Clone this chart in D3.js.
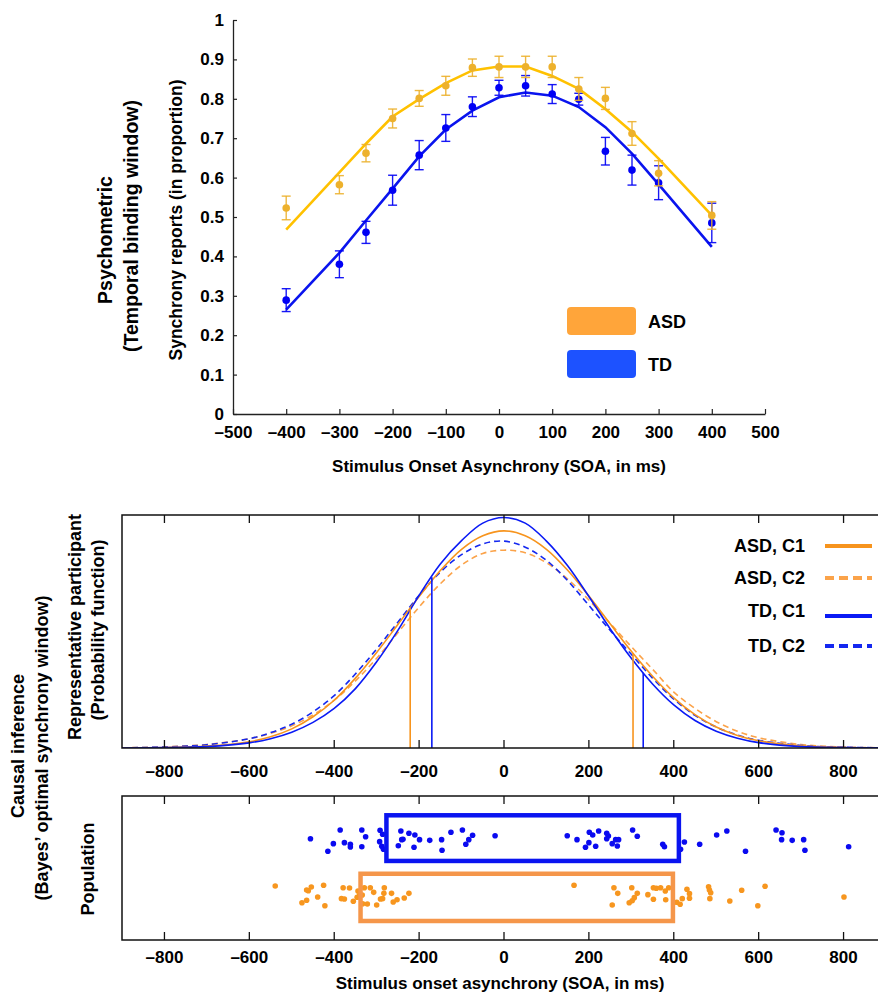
<!DOCTYPE html>
<html>
<head>
<meta charset="utf-8">
<script src="https://cdn.jsdelivr.net/npm/d3@7"></script>
<style>
  body { margin: 0; background: #fff; }
  text { font-family: "Liberation Sans", Arial, Helvetica, sans-serif; font-weight: bold; fill: #000; }
</style>
</head>
<body>
<svg id="chart" width="878" height="994"></svg>
<script>
// ---------- Psychometric data (synchrony judgements) ----------
const soaLevels = [-400, -300, -250, -200, -150, -100, -50, 0, 50, 100, 150, 200, 250, 300, 400];
const asdMean = [0.523, 0.582, 0.662, 0.750, 0.801, 0.833, 0.879, 0.881, 0.881, 0.881, 0.825, 0.801, 0.712, 0.611, 0.504];
const asdErr  = [0.030, 0.023, 0.022, 0.024, 0.020, 0.024, 0.022, 0.027, 0.027, 0.027, 0.029, 0.028, 0.030, 0.032, 0.035];
const asdFit  = [0.468, 0.613, 0.686, 0.755, 0.799, 0.840, 0.872, 0.882, 0.882, 0.858, 0.825, 0.774, 0.716, 0.648, 0.504];
const tdMean  = [0.289, 0.380, 0.461, 0.568, 0.657, 0.726, 0.780, 0.828, 0.833, 0.812, 0.799, 0.667, 0.619, 0.587, 0.485];
const tdErr   = [0.029, 0.034, 0.028, 0.038, 0.037, 0.034, 0.025, 0.019, 0.026, 0.024, 0.015, 0.035, 0.038, 0.043, 0.050];
const tdFit   = [0.265, 0.409, 0.491, 0.572, 0.654, 0.722, 0.770, 0.804, 0.816, 0.808, 0.779, 0.728, 0.661, 0.583, 0.424];
const psychTicksX = [-500, -400, -300, -200, -100, 0, 100, 200, 300, 400, 500];
const psychTicksY = [0, 0.1, 0.2, 0.3, 0.4, 0.5, 0.6, 0.7, 0.8, 0.9, 1];

// ---------- Representative participant: probability functions ----------
const soaGrid = [-900, -800, -700, -600, -550, -500, -450, -400, -350, -300, -250, -200, -150, -100, -50, 0,
                 50, 100, 150, 200, 250, 300, 350, 400, 450, 500, 550, 600, 700, 800, 900];
const asdC1 = [0.0005, 0.002, 0.008, 0.027, 0.048, 0.082, 0.134, 0.205, 0.300, 0.410, 0.530, 0.650, 0.762, 0.853, 0.911, 0.932,
               0.911, 0.853, 0.763, 0.652, 0.533, 0.415, 0.308, 0.215, 0.143, 0.090, 0.054, 0.031, 0.009, 0.002, 0.0005];
const asdC2 = [0.001, 0.005, 0.015, 0.040, 0.063, 0.095, 0.142, 0.205, 0.288, 0.385, 0.495, 0.605, 0.705, 0.785, 0.835, 0.849,
               0.838, 0.795, 0.725, 0.635, 0.535, 0.435, 0.338, 0.240, 0.170, 0.113, 0.072, 0.044, 0.015, 0.004, 0.001];
const tdC1  = [0.0003, 0.0015, 0.006, 0.022, 0.040, 0.068, 0.110, 0.170, 0.255, 0.370, 0.505, 0.655, 0.790, 0.890, 0.965, 0.989,
               0.965, 0.888, 0.782, 0.650, 0.512, 0.385, 0.275, 0.185, 0.118, 0.072, 0.042, 0.023, 0.006, 0.0015, 0.0003];
const tdC2  = [0.001, 0.004, 0.014, 0.040, 0.066, 0.102, 0.155, 0.225, 0.318, 0.425, 0.540, 0.655, 0.755, 0.830, 0.876, 0.888,
               0.862, 0.805, 0.718, 0.612, 0.505, 0.402, 0.300, 0.210, 0.140, 0.090, 0.056, 0.033, 0.011, 0.003, 0.001];
// window boundaries: [soa, height on the C1 curve]
const asdBounds = [[-221, 0.600], [304, 0.406]];
const tdBounds  = [[-170, 0.733], [328, 0.323]];
const soaTicks = [-800, -600, -400, -200, 0, 200, 400, 600, 800];

// ---------- Population: individual window limits [soa, jitter] ----------
const tdPop = [[-456,0.703],[-386,0.764],[-402,0.669],[-415,0.616],[-376,0.676],[-362,0.665],[-362,0.646],[-335,0.764],[-326,0.717],[-335,0.648],[-292,0.762],[-286,0.734],[-293,0.683],[-288,0.651],[-284,0.630],[-243,0.757],[-224,0.741],[-210,0.729],[-238,0.699],[-241,0.697],[-199,0.697],[-249,0.655],[-212,0.644],[-175,0.692],[-147,0.697],[-146,0.623],[-125,0.748],[-98,0.764],[-74,0.727],[-83,0.697],[-90,0.665],[-21,0.724],[149,0.724],[172,0.697],[201,0.748],[209,0.729],[223,0.757],[242,0.741],[246,0.722],[242,0.703],[200,0.676],[192,0.644],[216,0.651],[255,0.669],[263,0.697],[270,0.697],[267,0.653],[303,0.764],[314,0.720],[374,0.665],[378,0.648],[416,0.630],[425,0.681],[461,0.665],[501,0.729],[525,0.757],[569,0.616],[641,0.764],[655,0.745],[654,0.697],[679,0.692],[706,0.697],[709,0.623],[812,0.648]];
const asdPop = [[-539,0.375],[-465,0.347],[-454,0.368],[-461,0.342],[-425,0.380],[-439,0.299],[-465,0.276],[-476,0.259],[-422,0.238],[-379,0.363],[-364,0.361],[-383,0.287],[-376,0.285],[-355,0.269],[-344,0.340],[-340,0.313],[-346,0.297],[-334,0.313],[-329,0.363],[-315,0.363],[-307,0.331],[-282,0.363],[-283,0.324],[-291,0.285],[-286,0.287],[-265,0.324],[-333,0.252],[-322,0.250],[-300,0.243],[-261,0.264],[-252,0.280],[-235,0.292],[-224,0.324],[165,0.380],[259,0.363],[268,0.324],[255,0.243],[301,0.363],[314,0.324],[307,0.294],[302,0.273],[295,0.259],[339,0.315],[352,0.363],[352,0.283],[359,0.359],[369,0.363],[380,0.340],[388,0.363],[381,0.280],[407,0.262],[415,0.248],[420,0.287],[431,0.352],[437,0.322],[437,0.290],[482,0.370],[484,0.347],[487,0.328],[485,0.287],[532,0.271],[560,0.345],[598,0.238],[615,0.373],[801,0.299]];
const tdWindow  = [-277, 412];
const asdWindow = [-338, 398];

// ---------- styles ----------
const C = {
  asdPt: "#EDB12C", asdLine: "#FFC100", tdPt: "#0000F5", tdLine: "#0A14EE",
  asdKey: "#FFA53A", tdKey: "#1D52FF",
  asdCurve: "#F7941D", asdDash: "#FBA34A", tdCurve: "#0A1AF5", tdDash: "#1428F0",
  asdDot: "#F7961F", tdDot: "#0A0AF0", asdBox: "#F5964A", tdBox: "#0A14F0"
};
const dashFmt = d => String(d).replace("-", "\u2013");
const svg = d3.select("#chart");

function vLabel(txt, cx, cy, size) {
  svg.append("text")
    .attr("transform", `translate(${cx},${cy}) rotate(-90)`)
    .attr("text-anchor", "middle").attr("dy", "0.35em")
    .style("font-size", size + "px").text(txt);
}

// ================= Panel 1: psychometric =================
const xA = d3.scaleLinear().domain([-500, 500]).range([233, 765]);
const yA = d3.scaleLinear().domain([0, 1]).range([414, 20]);

const gAx = svg.append("g").attr("transform", `translate(0,${yA(0)})`)
  .call(d3.axisBottom(xA).tickValues(psychTicksX).tickSize(-5).tickSizeOuter(0).tickPadding(12).tickFormat(dashFmt));
const gAy = svg.append("g").attr("transform", `translate(${xA(-500)},0)`)
  .call(d3.axisLeft(yA).tickValues(psychTicksY).tickSize(-4).tickSizeOuter(0).tickPadding(9).tickFormat(d => String(d)));
[gAx, gAy].forEach(g => {
  g.select(".domain").attr("stroke", "#222").attr("stroke-width", 1.3);
  g.selectAll(".tick line").attr("stroke", "#222").attr("stroke-width", 1.2);
  g.selectAll(".tick text").style("font-size", "17px").attr("fill", "#000");
});

const groups = [
  { mean: tdMean, err: tdErr, fit: tdFit, pt: C.tdPt, line: C.tdLine },
  { mean: asdMean, err: asdErr, fit: asdFit, pt: C.asdPt, line: C.asdLine }
];
groups.forEach(gr => {
  const g = svg.append("g");
  const fitLine = d3.line().x((d, i) => xA(soaLevels[i])).y(d => yA(d));
  g.append("path").datum(gr.fit).attr("d", fitLine)
    .attr("fill", "none").attr("stroke", gr.line).attr("stroke-width", 2.6);
  const bars = g.selectAll(".eb").data(gr.mean).enter().append("g").attr("class", "eb");
  bars.append("line")
    .attr("x1", (d, i) => xA(soaLevels[i])).attr("x2", (d, i) => xA(soaLevels[i]))
    .attr("y1", (d, i) => yA(d - gr.err[i])).attr("y2", (d, i) => yA(d + gr.err[i]))
    .attr("stroke", gr.pt).attr("stroke-width", 1.4).attr("opacity", 0.9);
  [-1, 1].forEach(s => bars.append("line")
    .attr("x1", (d, i) => xA(soaLevels[i]) - 4.5).attr("x2", (d, i) => xA(soaLevels[i]) + 4.5)
    .attr("y1", (d, i) => yA(d + s * gr.err[i])).attr("y2", (d, i) => yA(d + s * gr.err[i]))
    .attr("stroke", gr.pt).attr("stroke-width", 1.4).attr("opacity", 0.9));
  bars.append("circle")
    .attr("cx", (d, i) => xA(soaLevels[i])).attr("cy", d => yA(d)).attr("r", 3.8)
    .attr("fill", gr.pt);
});

// legend
[["ASD", C.asdKey, 307], ["TD", C.tdKey, 350]].forEach(([lab, col, y]) => {
  svg.append("rect").attr("x", 567).attr("y", y).attr("width", 69).attr("height", 28)
    .attr("rx", 4).attr("fill", col);
  svg.append("text").attr("x", 648).attr("y", y + 21).style("font-size", "18px").text(lab);
});

svg.append("text").attr("x", 499).attr("y", 472).attr("text-anchor", "middle")
  .style("font-size", "17px").text("Stimulus Onset Asynchrony (SOA, in ms)");
vLabel("Synchrony reports (in proportion)", 176, 220, 17.5);
vLabel("Psychometric", 105, 240, 19.5);
vLabel("(Temporal binding window)", 131, 226, 19.5);

// ================= Panels 2 & 3: causal inference =================
const xB = d3.scaleLinear().domain([-900, 900]).range([122, 886]);

function framedPanel(top, bottom, labelY) {
  const g = svg.append("g");
  g.append("rect").attr("x", xB(-900)).attr("y", top)
    .attr("width", xB(900) - xB(-900)).attr("height", bottom - top)
    .attr("fill", "none").attr("stroke", "#111").attr("stroke-width", 1.5);
  g.selectAll(".tb").data(soaTicks).enter().append("line")
    .attr("x1", d => xB(d)).attr("x2", d => xB(d)).attr("y1", top).attr("y2", top + 8)
    .attr("stroke", "#111").attr("stroke-width", 1.3);
  g.selectAll(".bt").data(soaTicks).enter().append("line")
    .attr("x1", d => xB(d)).attr("x2", d => xB(d)).attr("y1", bottom).attr("y2", bottom - 8)
    .attr("stroke", "#111").attr("stroke-width", 1.3);
  g.selectAll(".lb").data(soaTicks).enter().append("text")
    .attr("x", d => xB(d)).attr("y", labelY).attr("text-anchor", "middle")
    .attr("dy", "0.35em").style("font-size", "17px").text(dashFmt);
  return g;
}

// ---- representative participant ----
const yB = d3.scaleLinear().domain([0, 1]).range([748, 515]);
svg.append("clipPath").attr("id", "clipB").append("rect")
  .attr("x", xB(-900)).attr("y", 515).attr("width", xB(900) - xB(-900)).attr("height", 233);
const gB = svg.append("g").attr("clip-path", "url(#clipB)");
const probLine = d3.line().x((d, i) => xB(soaGrid[i])).y(d => yB(d)).curve(d3.curveCatmullRom.alpha(0.5));
[
  [asdC2, C.asdDash, "6,4"], [tdC2, C.tdDash, "6,4"],
  [asdC1, C.asdCurve, null], [tdC1, C.tdCurve, null]
].forEach(([vals, col, dash]) => {
  gB.append("path").datum(vals).attr("d", probLine).attr("fill", "none")
    .attr("stroke", col).attr("stroke-width", 1.6).attr("stroke-dasharray", dash);
});
[[asdBounds, C.asdCurve], [tdBounds, C.tdCurve]].forEach(([b, col]) => {
  gB.selectAll(null).data(b).enter().append("line")
    .attr("x1", d => xB(d[0])).attr("x2", d => xB(d[0]))
    .attr("y1", yB(0)).attr("y2", d => yB(d[1]))
    .attr("stroke", col).attr("stroke-width", 1.6);
});
framedPanel(515, 748, 771);

// legend
[
  ["ASD, C1", C.asdCurve, null, 546, 546],
  ["ASD, C2", C.asdDash, "9,5", 578, 578],
  ["TD, C1", C.tdCurve, null, 611, 616],
  ["TD, C2", C.tdDash, "9,5", 646, 646]
].forEach(([lab, col, dash, ty, ly]) => {
  svg.append("text").attr("x", 805).attr("y", ty).attr("dy", "0.35em")
    .attr("text-anchor", "end").style("font-size", "18px").text(lab);
  svg.append("line").attr("x1", 825).attr("x2", 872).attr("y1", ly).attr("y2", ly)
    .attr("stroke", col).attr("stroke-width", 4).attr("stroke-dasharray", dash);
});

// ---- population ----
const yC = d3.scaleLinear().domain([0, 1]).range([940, 796]);
framedPanel(796, 940, 957);
const gC = svg.append("g");
gC.selectAll(".td").data(tdPop).enter().append("circle")
  .attr("cx", d => xB(d[0])).attr("cy", d => yC(d[1])).attr("r", 2.8).attr("fill", C.tdDot);
gC.selectAll(".asd").data(asdPop).enter().append("circle")
  .attr("cx", d => xB(d[0])).attr("cy", d => yC(d[1])).attr("r", 2.8).attr("fill", C.asdDot);
gC.append("rect").attr("x", xB(tdWindow[0])).attr("y", yC(0.866))
  .attr("width", xB(tdWindow[1]) - xB(tdWindow[0])).attr("height", yC(0.549) - yC(0.866))
  .attr("fill", "none").attr("stroke", C.tdBox).attr("stroke-width", 4.5);
gC.append("rect").attr("x", xB(asdWindow[0])).attr("y", yC(0.460))
  .attr("width", xB(asdWindow[1]) - xB(asdWindow[0])).attr("height", yC(0.132) - yC(0.460))
  .attr("fill", "none").attr("stroke", C.asdBox).attr("stroke-width", 4.5);

svg.append("text").attr("x", 500).attr("y", 983).attr("dy", "0.35em").attr("text-anchor", "middle")
  .style("font-size", "17px").text("Stimulus onset asynchrony (SOA, in ms)");

vLabel("Causal inference", 18, 746, 18);
vLabel("(Bayes\u2019 optimal synchrony window)", 42, 748, 18);
vLabel("Representative participant", 75, 627, 18);
vLabel("(Probability function)", 98, 630, 18);
vLabel("Population", 88, 869, 18);
</script>
</body>
</html>
